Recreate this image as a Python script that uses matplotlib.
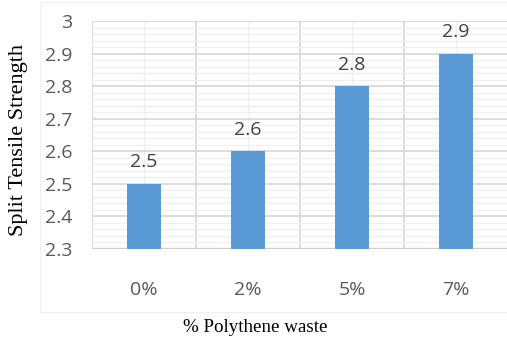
import matplotlib
matplotlib.use("Agg")
import matplotlib.pyplot as plt
from matplotlib.patches import Rectangle
import numpy as np

categories = ["0%", "2%", "5%", "7%"]
values = [2.5, 2.6, 2.8, 2.9]
y_ticks = [2.3, 2.4, 2.5, 2.6, 2.7, 2.8, 2.9, 3.0]
y_tick_labels = ["2.3", "2.4", "2.5", "2.6", "2.7", "2.8", "2.9", "3"]

W, H = 507, 339
fig = plt.figure(figsize=(W / 100, H / 100), dpi=100)
ax = fig.add_axes([92 / W, 1 - 249 / H, (508 - 92) / W, (249 - 21) / H])

x = np.arange(len(categories))
ax.bar(x, values, width=0.32, color="#5b9bd5", zorder=3)

ax.set_xlim(-0.5, len(categories) - 0.5)
ax.set_ylim(2.3, 3.0)

# light minor grid every 0.02, stronger major grid every 0.1
ax.set_yticks(y_ticks)
ax.set_yticklabels(y_tick_labels)
ax.set_yticks(np.arange(2.3, 3.0001, 0.02), minor=True)
ax.set_xticks(x)
ax.set_xticks(np.arange(-0.5, len(categories), 1.0), minor=True)
ax.set_xticklabels(categories)

ax.grid(which="major", axis="y", color="#d9d9d9", linewidth=1.3, zorder=0)
ax.grid(which="minor", axis="y", color="#efefef", linewidth=0.9, zorder=0)
ax.grid(which="minor", axis="x", color="#d9d9d9", linewidth=1.3, zorder=0)
ax.grid(which="major", axis="x", color="#efefef", linewidth=0.9, zorder=0)

for s in ax.spines.values():
    s.set_visible(False)
ax.axhline(2.3, color="#d0d0d0", linewidth=1.6, zorder=2)

ax.tick_params(which="both", length=0)
ax.tick_params(axis="y", pad=14)
ax.tick_params(axis="x", pad=23)
for lab in ax.get_xticklabels() + ax.get_yticklabels():
    lab.set_fontfamily("Open Sans")
    lab.set_fontsize(14)
    lab.set_color("#595959")

for xi, v in zip(x, values):
    ax.annotate(f"{v:.1f}", (xi, v), xytext=(0, 9), textcoords="offset points",
                ha="center", va="bottom", fontsize=14, family="Open Sans",
                color="#404040", zorder=4)

# faint chart-area border
fig.patches.append(Rectangle((40 / W, 1 - 312 / H), (W - 40) / W + 0.01, (312 - 2) / H,
                             transform=fig.transFigure, fill=False,
                             edgecolor="#f0f0f0", linewidth=0.8))

fig.text(19 / W, 1 - 140 / H, "Split Tensile Strength", rotation=90,
         ha="center", va="center", fontsize=16, family="Liberation Serif",
         color="black")
fig.text(255 / W, 1 - 327 / H, "% Polythene waste", ha="center", va="center",
         fontsize=13.7, family="Liberation Serif", color="black")

fig.savefig("out.png", dpi=100)
